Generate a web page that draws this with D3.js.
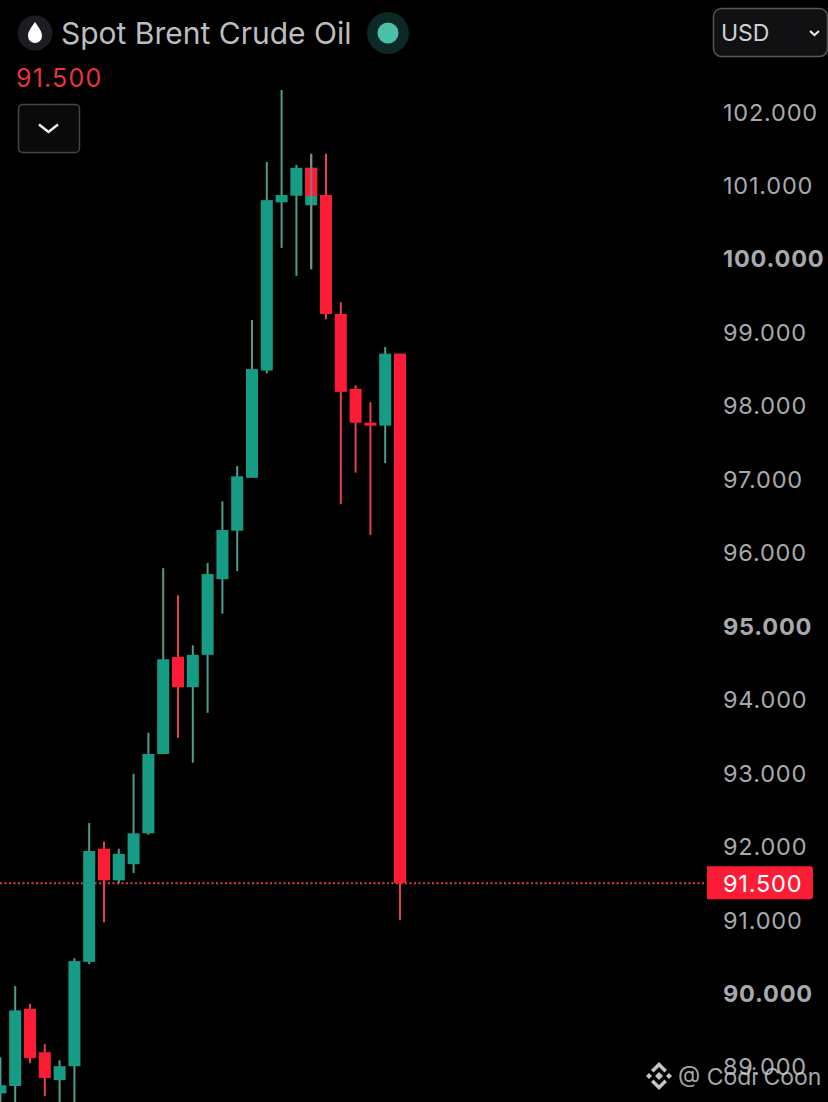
<!DOCTYPE html>
<html>
<head>
<meta charset="utf-8">
<script src="https://cdn.jsdelivr.net/npm/d3@7"></script>
<style>
html, body { margin: 0; padding: 0; background: #000; }
svg { display: block; font-family: Inter, "Noto Sans", sans-serif; }
</style>
</head>
<body>
<div class="chart"></div>
<script>
// candles, left to right
// slot 21 appears twice: a red candle sits over the green one
const slots  = [0, 1, 2, 3, 4, 5, 6, 7, 8, 9, 10, 11, 12, 13, 14, 15, 16, 17, 18, 19, 20, 21, 21, 22, 23, 24, 25, 26, 27];
const opens  = [88.64, 88.74, 89.79, 89.20, 88.82, 89.01, 90.43, 91.97, 91.54, 91.76, 92.18, 93.26, 94.58, 94.17, 94.61, 95.64, 96.30, 97.02, 98.48, 100.77, 100.86, 100.73, 101.24, 100.87, 99.25, 98.23, 97.77, 97.73, 98.71];
const highs  = [89.13, 90.10, 89.86, 89.31, 89.09, 90.48, 92.32, 92.07, 91.97, 92.99, 93.55, 95.79, 95.42, 94.74, 95.86, 96.70, 97.18, 99.17, 101.32, 102.30, 101.28, 101.43, 101.43, 101.43, 99.41, 98.28, 98.05, 98.80, 98.71];
const lows   = [88.40, 88.41, 89.05, 88.60, 88.41, 88.41, 90.40, 90.97, 91.50, 91.64, 92.16, 93.26, 93.48, 93.14, 93.82, 95.17, 95.75, 97.02, 98.44, 100.15, 99.77, 99.86, 99.86, 99.18, 96.66, 97.09, 96.24, 97.22, 91.00];
const closes = [88.75, 89.77, 89.12, 88.85, 89.01, 90.44, 91.94, 91.54, 91.90, 92.18, 93.26, 94.55, 94.17, 94.61, 95.71, 96.31, 97.04, 98.50, 100.80, 100.87, 101.24, 101.24, 100.86, 99.25, 98.19, 97.77, 97.73, 98.71, 91.50];

const tickValues = [102, 101, 100, 99, 98, 97, 96, 95, 94, 93, 92, 91, 90, 89];
const boldTicks = [100, 95, 90];
const lastPrice = 91.5;
const title = 'Spot Brent Crude Oil';
const currency = 'USD';
const watermark = '@ Codi Coon';

const width = 828;
const height = 1102;
const bodyWidth = 12;
const green = '#169c84';
const red = '#fd1c36';

const svg = d3.select('.chart')
	.append('svg')
		.attr('width', width)
		.attr('height', height);

svg.append('rect').attr('width', width).attr('height', height).attr('fill', '#000');

const xScale = d3.scaleLinear()
	.domain([0, 27])
	.range([0.4, 400]);

const yScale = d3.scaleLinear()
	.domain([102, 91])
	.range([112, 920]);

// y axis, labels only
const yAxis = d3.axisRight(yScale)
	.tickValues(tickValues)
	.tickFormat(d3.format('.3f'))
	.tickSize(0)
	.tickPadding(0);

const axisG = svg.append('g')
	.attr('transform', 'translate(723, 0.5)')
	.call(yAxis);
axisG.select('.domain').remove();
axisG.selectAll('text')
	.attr('fill', '#a8a9ad')
	.style('font-family', 'Inter, "Noto Sans", sans-serif')
	.style('font-size', '23.5px')
	.style('letter-spacing', '0.8px')
	.style('font-weight', d => boldTicks.includes(d) ? 700 : 400);

// last price line + tag
const lastY = yScale(lastPrice);

svg.append('line')
	.attr('x1', 0)
	.attr('x2', 706)
	.attr('y1', lastY)
	.attr('y2', lastY)
	.attr('stroke', '#e8394a')
	.attr('stroke-width', 2)
	.attr('stroke-dasharray', '2 2.5');

svg.append('path')
	.attr('d', `M707 ${lastY - 17}H810a3 3 0 0 1 3 3V${lastY + 13}a3 3 0 0 1 -3 3H707Z`)
	.attr('fill', red);

svg.append('text')
	.attr('x', 723)
	.attr('y', lastY)
	.attr('dy', '.37em')
	.attr('fill', '#fff')
	.style('font-size', '23.5px')
	.style('letter-spacing', '0.8px')
	.text(d3.format('.3f')(lastPrice));

// candles
const candles = slots.map((s, i) => ({slot: s, open: opens[i], high: highs[i], low: lows[i], close: closes[i]}));

svg.selectAll('.wick')
	.data(candles)
	.enter()
	.append('line')
	.attr('class', 'wick')
	.attr('x1', d => xScale(d.slot))
	.attr('x2', d => xScale(d.slot))
	.attr('y1', d => yScale(d.high))
	.attr('y2', d => yScale(d.low))
	.attr('stroke', d => d.slot === 21 ? '#74918a' : d.close >= d.open ? '#4f9d8b' : '#e5404f')
	.attr('stroke-width', 2);

svg.selectAll('.body')
	.data(candles)
	.enter()
	.append('rect')
	.attr('class', 'body')
	.attr('x', d => xScale(d.slot) - bodyWidth / 2)
	.attr('y', d => yScale(Math.max(d.open, d.close)))
	.attr('width', bodyWidth)
	.attr('height', d => Math.abs(yScale(d.open) - yScale(d.close)))
	.attr('fill', d => d.close >= d.open ? green : red);

// grey wick shows through the overlapped candle
svg.append('line')
	.attr('x1', xScale(21))
	.attr('x2', xScale(21))
	.attr('y1', yScale(101.24))
	.attr('y2', yScale(100.73))
	.attr('stroke', '#74918a')
	.attr('stroke-width', 2)
	.attr('opacity', 0.7);

// header
svg.append('circle').attr('cx', 35).attr('cy', 33).attr('r', 17.5).attr('fill', '#1c1d20');
svg.append('path')
	.attr('d', 'M35 22C31 28 28 31 28 36a7 7 0 0 0 14 0C42 31 39 28 35 22Z')
	.attr('fill', '#fff');

svg.append('text')
	.attr('x', 61)
	.attr('y', 44)
	.attr('fill', '#bcbdc1')
	.style('font-size', '30px')
	.text(title);

svg.append('circle').attr('cx', 388).attr('cy', 33).attr('r', 21).attr('fill', '#0c2925');
svg.append('circle').attr('cx', 388).attr('cy', 33).attr('r', 10.5).attr('fill', '#4cc0a6');

svg.append('text')
	.attr('x', 16)
	.attr('y', 87)
	.attr('fill', '#e8353f')
	.style('font-size', '25px')
	.style('letter-spacing', '1.2px')
	.text(d3.format('.3f')(lastPrice));

svg.append('rect')
	.attr('x', 18.5)
	.attr('y', 104.5)
	.attr('width', 61)
	.attr('height', 48)
	.attr('rx', 4)
	.attr('fill', '#0a0a0a')
	.attr('stroke', '#444547')
	.attr('stroke-width', 1.5);
svg.append('path')
	.attr('d', 'M39 124.5L48.5 132L58 124.5')
	.attr('fill', 'none')
	.attr('stroke', '#f2f2f2')
	.attr('stroke-width', 2.5);

// currency select
svg.append('rect')
	.attr('x', 713.5)
	.attr('y', 8.5)
	.attr('width', 114)
	.attr('height', 48)
	.attr('rx', 8)
	.attr('fill', '#111113')
	.attr('stroke', '#565759')
	.attr('stroke-width', 1.5);
svg.append('text')
	.attr('x', 721)
	.attr('y', 41)
	.attr('fill', '#cfd0d3')
	.style('font-size', '23px')
	.text(currency);
svg.append('path')
	.attr('d', 'M810 31L814.5 35L819 31')
	.attr('fill', 'none')
	.attr('stroke', '#e6e6e6')
	.attr('stroke-width', 2.2);

// watermark
const mark = svg.append('g')
	.attr('transform', 'translate(659, 1076)')
	.attr('fill', '#c6c6c8');
mark.append('path').attr('d', 'M0 -4L4 0L0 4L-4 0Z');
mark.append('path').attr('d', 'M-10 -3L-7 0L-10 3L-13 0Z');
mark.append('path').attr('d', 'M10 -3L13 0L10 3L7 0Z');
mark.append('path').attr('d', 'M0 -14L8 -6L5.5 -3.5L0 -9L-5.5 -3.5L-8 -6Z');
mark.append('path').attr('d', 'M0 14L8 6L5.5 3.5L0 9L-5.5 3.5L-8 6Z');

svg.append('text')
	.attr('x', 678)
	.attr('y', 1085)
	.attr('fill', '#c6c6c8')
	.attr('fill-opacity', 0.85)
	.style('font-size', '23px')
	.text(watermark);
</script>
</body>
</html>
